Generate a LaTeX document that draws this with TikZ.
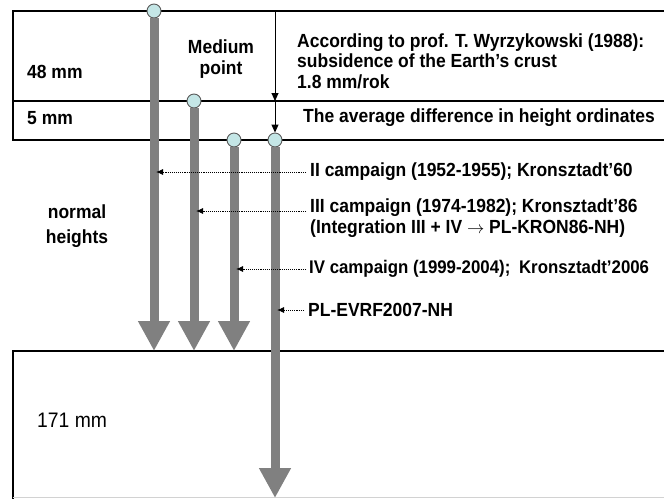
\documentclass[tikz,border=0pt]{standalone}
\usepackage{fontspec}
\setmainfont{Liberation Sans}[FakeStretch=0.92]
\usetikzlibrary{arrows.meta,positioning}
\definecolor{shaftgray}{RGB}{128,128,128}
\definecolor{pincyan}{RGB}{196,230,230}

\begin{document}
\begin{tikzpicture}[
  x=1pt,y=-1pt,
  font=\bfseries\fontsize{19}{20.5}\selectfont,
  frame/.style={line width=1.9pt, draw=black},
  pin/.style={circle, draw=shaftgray!70!black, line width=0.9pt,
              fill=pincyan, minimum size=14pt, inner sep=0pt},
  drop/.style={-{Triangle[length=30pt,width=30pt]}, line width=9pt, draw=shaftgray},
  lbl/.style={anchor=west, inner sep=0pt, align=left},
  ref/.style={-{Latex[length=7pt,width=6pt]}, densely dotted, line width=0.9pt},
  sink/.style={-{Triangle[length=8pt,width=7pt]}, line width=0.9pt}
]
\useasboundingbox (0,0) rectangle (664,499);

% layer frame
\draw[frame] (664,11) -- (13,11) -- (13,140) -- (664,140);
\draw[frame] (13,101) -- (664,101);
\draw[frame] (664,351) -- (13,351) -- (13,499);
\draw[gray!35, line width=0.8pt] (13,497) -- (664,497);

% left column
\node[lbl] (mm48) at (27,72) {48 mm};
\node[lbl] (mm5) at (27,118) {5 mm};
\node[align=center, inner sep=0pt, font=\bfseries\fontsize{19}{25}\selectfont]
  (normal) at (77,226) {normal\\heights};
\node[lbl, font=\fontsize{21}{24}\selectfont] (mm171) at (37,420) {171 mm};
\node[align=center, inner sep=0pt] (medium) at (221,59) {Medium\\point};

% crust subsidence
\node[lbl] (wyrz) at (297,61)
  {According to prof. T. Wyrzykowski (1988):\\subsidence of the Earth’s crust\\1.8 mm/rok};
\node[lbl] (avg) at (303,118) {The average difference in height ordinates};

% campaigns
\node[pin] (p1) at (154,11) {};
\node[pin] (p2) at (194,101) {};
\node[pin] (p3) at (234,140) {};
\node[pin] (p4) at (275,140) {};
\coordinate (e1) at (154,351);
\coordinate (e2) at (194,351);
\coordinate (e3) at (234,351);
\coordinate (e4) at (275,498);
\draw[drop] (p1.south) -- (e1);
\draw[drop] (p2.south) -- (e2);
\draw[drop] (p3.south) -- (e3);
\draw[drop] (p4.south) -- (e4);

\coordinate (s0) at (275,11);
\coordinate (s1) at (275,101);
\draw[sink] (s0) -- (s1);
\draw[sink] (s1) -- (p4.north);

\node[lbl] (camp2) at (310,172) {II campaign (1952-1955); Kronsztadt’60};
\node[lbl, anchor=north west] (camp3) at (310,199)
  {III campaign (1974-1982); Kronsztadt’86\\(Integration III + IV $\rightarrow$ PL-KRON86-NH)};
\node[lbl, font=\bfseries\fontsize{18.3}{20}\selectfont] (camp4) at (309,269)
  {IV campaign (1999-2004);\hspace{4pt} Kronsztadt’2006};
\node[lbl] (evrf) at (308,310) {PL-EVRF2007-NH};

\draw[ref] ([xshift=-4pt]camp2.west) -- ([xshift=2pt]camp2.west -| p1);
\draw[ref] ([xshift=-4pt,yshift=-12pt]camp3.north west) -- ([xshift=2pt,yshift=-12pt]camp3.north west -| p2);
\draw[ref] ([xshift=-3pt]camp4.west) -- ([xshift=2pt]camp4.west -| p3);
\draw[ref] ([xshift=-4pt]evrf.west) -- ([xshift=2pt]evrf.west -| p4);

\end{tikzpicture}
\end{document}
